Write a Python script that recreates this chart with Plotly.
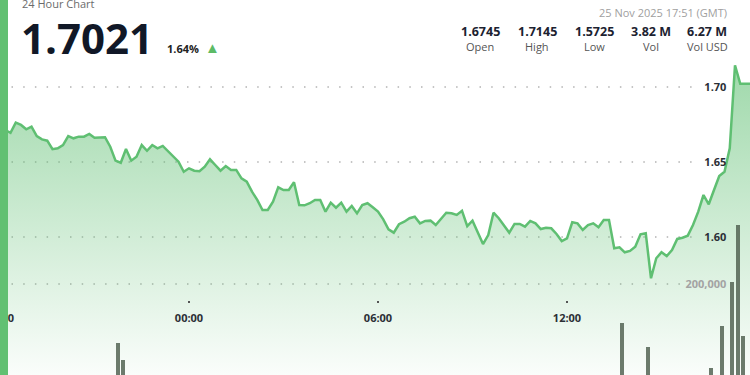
import plotly.graph_objects as go
import pandas as pd

# ---------------- data ----------------
title_text = "24 Hour Chart"
last_price = "1.7021"
change_pct = "1.64%"
timestamp_text = "25 Nov 2025 17:51 (GMT)"
stat_values = ["1.6745", "1.7145", "1.5725", "3.82 M", "6.27 M"]
stat_labels = ["Open", "High", "Low", "Vol", "Vol USD"]

price_start = "2025-11-24 18:00"
price_values = [
    1.6745, 1.6713, 1.6695, 1.6762, 1.6747, 1.6718,  # 18:00 - 18:50
    1.6735, 1.6673, 1.6651, 1.6642, 1.6585, 1.6591,  # 19
    1.6613, 1.6673, 1.6658, 1.6669, 1.6669, 1.6687,  # 20
    1.6662, 1.6662, 1.6665, 1.6602, 1.6509, 1.6495,  # 21
    1.6587, 1.6509, 1.6535, 1.6613, 1.6575, 1.6613,  # 22
    1.6591, 1.6607, 1.6573, 1.6540, 1.6502, 1.6435,  # 23
    1.6458, 1.6442, 1.6438, 1.6469, 1.6518, 1.6480,  # 00
    1.6442, 1.6473, 1.6447, 1.6447, 1.6391, 1.6369,  # 01
    1.6302, 1.6247, 1.6180, 1.6180, 1.6235, 1.6331,  # 02
    1.6313, 1.6313, 1.6365, 1.6213, 1.6211, 1.6225,  # 03
    1.6247, 1.6247, 1.6169, 1.6229, 1.6195, 1.6229,  # 04
    1.6169, 1.6207, 1.6158, 1.6213, 1.6225, 1.6198,  # 05
    1.6169, 1.6118, 1.6051, 1.6029, 1.6085, 1.6102,  # 06
    1.6125, 1.6135, 1.6091, 1.6107, 1.6109, 1.6080,  # 07
    1.6125, 1.6162, 1.6158, 1.6147, 1.6175, 1.6073,  # 08
    1.6109, 1.6025, 1.5953, 1.6013, 1.6162, 1.6125,  # 09
    1.6080, 1.6029, 1.6087, 1.6087, 1.6069, 1.6107,  # 10
    1.6091, 1.6053, 1.6062, 1.6058, 1.6020, 1.5973,  # 11
    1.5991, 1.6098, 1.6091, 1.6047, 1.6080, 1.6091,  # 12
    1.6065, 1.6113, 1.6113, 1.5925, 1.5931, 1.5898,  # 13
    1.5907, 1.5935, 1.6018, 1.6025, 1.5725, 1.5858,  # 14
    1.5898, 1.5873, 1.5913, 1.5987, 1.5995, 1.6009,  # 15
    1.6080, 1.6169, 1.6280, 1.6218, 1.6313, 1.6407,  # 16
    1.6435, 1.6591, 1.7145, 1.7021, 1.7021, 1.7021,  # 17
]
price_times = pd.date_range(price_start, periods=len(price_values), freq="10min")

volume_times = [
    "2025-11-24 21:40", "2025-11-24 21:50", "2025-11-25 13:40",
    "2025-11-25 14:30", "2025-11-25 16:30", "2025-11-25 16:50",
    "2025-11-25 17:10", "2025-11-25 17:20", "2025-11-25 17:30",
]
volume_values = [119600, 95900, 147000, 113300, 84500, 142500, 202300, 280200, 128100]

price_ticks = [1.60, 1.65, 1.70]
volume_ticks = [200000]
time_ticks = ["2025-11-24 18:00", "2025-11-25 00:00", "2025-11-25 06:00", "2025-11-25 12:00"]

# ---------------- style ----------------
W, H = 750, 375
GREEN = "#5fbf72"
FONT = "Open Sans"
DARK = "#1c2230"


def px(x, y):
    return x / W, 1 - y / H


fig = go.Figure()

fig.add_trace(go.Scatter(
    x=price_times, y=price_values, mode="lines",
    line=dict(color=GREEN, width=2.5),
    fill="tozeroy",
    fillgradient=dict(
        type="vertical",
        colorscale=[[0, "rgba(95,191,114,0.03)"], [1, "rgba(95,191,114,0.6)"]],
        start=1.508, stop=1.715,
    ),
    hoverinfo="skip",
))

fig.add_trace(go.Bar(
    x=volume_times, y=volume_values, yaxis="y2",
    width=480000, offset=60000,
    marker=dict(color="rgba(84,100,84,0.85)", line=dict(width=0)),
    hoverinfo="skip",
))

shapes = []
for v in price_ticks:
    shapes.append(dict(type="line", xref="paper", yref="y",
                       x0=11.5 / W, x1=701 / W, y0=v, y1=v,
                       line=dict(color="#b3b3b3", width=1.5, dash="1.5px,10.2px"),
                       layer="below"))
for v in volume_ticks:
    shapes.append(dict(type="line", xref="paper", yref="y2",
                       x0=11.5 / W, x1=684 / W, y0=v, y1=v,
                       line=dict(color="#b3b3b3", width=1.5, dash="1.5px,10.2px"),
                       layer="below"))
shapes.append(dict(type="rect", xref="paper", yref="paper", x0=0, x1=8 / W, y0=0, y1=1,
                   fillcolor="#62c072", line=dict(width=0), layer="above"))

ann = []


def add_text(text, x, y, size, color, anchor="left", bold=False):
    ax, ay = px(x, y)
    ann.append(dict(text=text, x=ax, y=ay, xref="paper", yref="paper",
                    xanchor=anchor, yanchor="middle", showarrow=False,
                    font=dict(family=FONT, size=size, color=color,
                              weight="bold" if bold else "normal")))


add_text(title_text, 20, 3, 11, "#6b6b6b")
add_text(last_price, 19, 37, 42, "#111827", bold=True)
add_text(change_pct, 165, 48, 11, "#222222", bold=True)
add_text("▲", 212.5, 47, 15, "#5cbb66", anchor="center")
add_text(timestamp_text, 729, 12.5, 11, "#a0a0a0", anchor="right")
col_centers = [480, 537, 594, 651, 707]
for cx, v, l in zip(col_centers, stat_values, stat_labels):
    add_text(v, cx, 31, 12.5, DARK, anchor="center", bold=True)
    add_text(l, cx, 46.5, 11, "#555555", anchor="center")

fig.update_layout(
    width=W, height=H,
    margin=dict(l=0, r=0, t=0, b=0, autoexpand=False),
    paper_bgcolor="white", plot_bgcolor="rgba(0,0,0,0)",
    showlegend=False, hovermode=False,
    bargap=0,
    xaxis=dict(
        range=["2025-11-24 18:00", "2025-11-25 17:48:34"],
        tickvals=time_ticks, tickformat="%H:%M",
        anchor="free", position=(H - 299.5) / H,
        showgrid=False, zeroline=False, showline=False,
        ticks="outside", ticklen=2, tickwidth=2, tickcolor="#555555",
        ticklabelstandoff=6, ticklabeloverflow="allow", automargin=False,
        tickfont=dict(family=FONT, size=11, color="#2b2f36", weight="bold"),
    ),
    yaxis=dict(
        range=[1.508, 1.758], tickvals=price_ticks, tickformat=".2f",
        side="right", anchor="free", position=0.9725,
        ticklabelposition="inside", ticks="", automargin=False,
        showgrid=False, zeroline=False, showline=False,
        tickfont=dict(family=FONT, size=11, color="#2b2f36", weight="bold"),
    ),
    yaxis2=dict(
        range=[75342, 589041], tickvals=volume_ticks, tickformat=",d",
        overlaying="y", side="right", anchor="free", position=0.9725,
        ticklabelposition="inside", ticks="", automargin=False,
        showgrid=False, zeroline=False, showline=False,
        tickfont=dict(family=FONT, size=11, color="#a3a3a3", weight="bold"),
    ),
    shapes=shapes,
    annotations=ann,
)

fig.write_html(
    "out.html",
    config={"displayModeBar": False, "staticPlot": True},
    post_script="document.body.style.margin='0';document.body.style.overflow='hidden';",
)
